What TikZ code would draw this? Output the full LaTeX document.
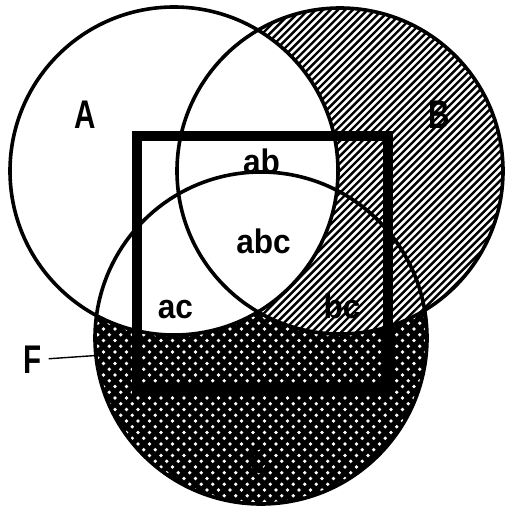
\documentclass[tikz,border=0pt]{standalone}
\usepackage{fontspec}
\setmainfont{Liberation Sans}
\tikzset{
  outline/.style={line width=3.6pt},
  frame/.style={line width=10.5pt},
  hatchline/.style={line width=2.4pt},
  lower/.style={anchor=base, inner sep=0pt, xscale=0.93, font=\fontsize{34}{34}\selectfont\bfseries},
  upper/.style={anchor=base, inner sep=0pt, xscale=0.74, font=\fontsize{40}{40}\selectfont\bfseries}
}
\begin{document}
\begin{tikzpicture}[x=1pt,y=-1pt]
\useasboundingbox (0,0) rectangle (510,511);
% C region: black with white dots
\fill[black] (261,338) circle[radius=166];
\begin{scope}
  \clip (261,338) circle[radius=166];
  \foreach \k in {0,...,60}{
    \foreach \m in {0,...,30}{
      \pgfmathsetmacro{\xx}{92+5.75*\k}
      \pgfmathsetmacro{\yy}{168+11.5*\m+5.75*mod(\k,2)}
      \fill[white] (\xx,\yy) circle[radius=1.8];
    }
  }
\end{scope}
% B region: hatched
\fill[white] (340,171) circle[radius=163];
\begin{scope}
  \clip (340,171) circle[radius=163];
  \foreach \c in {0,7.4,...,1030}{
    \draw[hatchline] (\c-400,400) -- (\c+20,-20);
  }
\end{scope}
% A region: white
\fill[white] (174,171) circle[radius=164];
% outlines
\draw[outline] (174,171) circle[radius=164];
\draw[outline] (340,171) circle[radius=163];
\draw[outline] (261,338) circle[radius=166];
% frame F
\draw[frame] (137,136) rectangle (388,389);
% labels
\node[upper] (lA) at (85,128) {A};
\node[upper] (lB) at (439,128) {B};
\node[upper] (lC) at (260,473) {C};
\node[upper] (lF) at (32.5,373) {F};
\node[lower] (lab) at (261.5,173) {ab};
\node[lower] (labc) at (263.5,253) {abc};
\node[lower] (lac) at (175.5,318) {ac};
\node[lower] (lbc) at (342,318) {bc};
% pointer
\coordinate (Fend) at (96,355.5);
\draw[line width=1.4pt, shorten <=7pt] (lF.east) -- (Fend);
\end{tikzpicture}
\end{document}
